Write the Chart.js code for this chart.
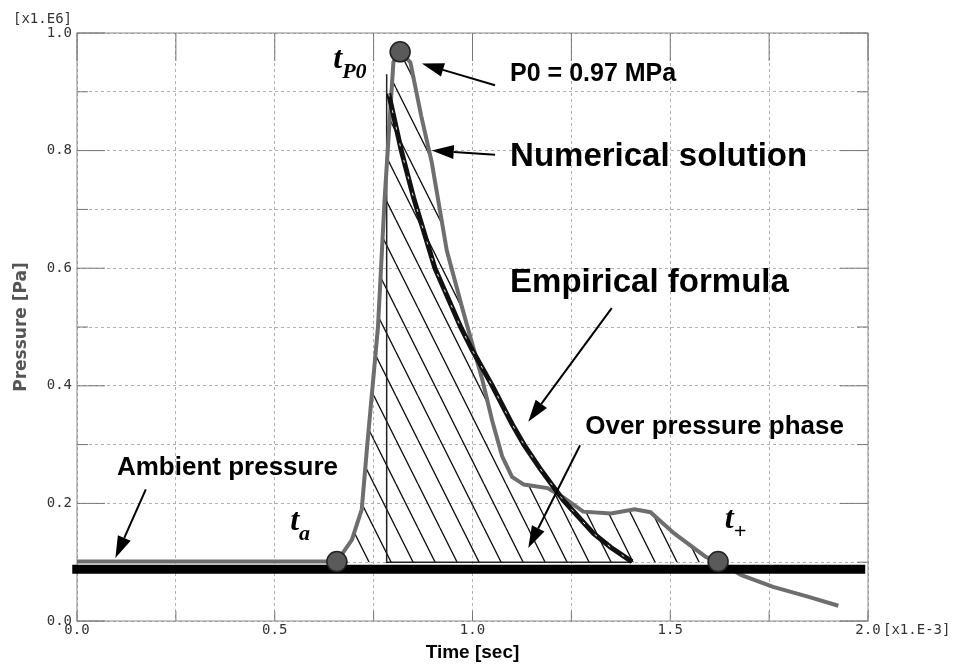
<!DOCTYPE html>
<html lang="en">
<head>
<meta charset="UTF-8">
<title>Pressure history</title>
<script src="https://cdn.jsdelivr.net/npm/chart.js@4.4.0/dist/chart.umd.min.js"></script>
<style>
  body{margin:0; background:#fff;}
  #wrap{width:957px; height:666px;}
</style>
</head>
<body>
<div id="wrap"><canvas id="myChart" width="957" height="666"></canvas></div>
<script>
// time in x1.E-3 sec, pressure in x1.E6 Pa
const numTime = [0, 0.657, 0.695, 0.72, 0.734, 0.761, 0.778, 0.80, 0.815, 0.843, 0.87, 0.897, 0.935, 0.975, 1.0, 1.025, 1.05, 1.075, 1.10, 1.13, 1.19, 1.23, 1.28, 1.35, 1.41, 1.45, 1.51, 1.59, 1.621, 1.68, 1.76, 1.85, 1.925]
const numPressure = [0.101, 0.101, 0.138, 0.19, 0.30, 0.50, 0.72, 0.95, 0.97, 0.95, 0.86, 0.78, 0.63, 0.53, 0.47, 0.41, 0.34, 0.28, 0.245, 0.232, 0.226, 0.21, 0.186, 0.183, 0.19, 0.185, 0.149, 0.109, 0.101, 0.078, 0.058, 0.041, 0.026]

const empTime = [0.788, 0.82, 0.851, 0.905, 0.97, 1.0, 1.05, 1.10, 1.13, 1.17, 1.23, 1.306, 1.35, 1.403]
const empPressure = [0.897, 0.80, 0.72, 0.60, 0.50, 0.46, 0.40, 0.335, 0.30, 0.26, 0.205, 0.149, 0.125, 0.101]

// onset of the empirical pulse (thin line)
const onsetTime = [1.403, 0.783, 0.783]
const onsetPressure = [0.10, 0.10, 0.93]

const ambientTime = [-0.012, 1.993]
const ambientPressure = [0.088, 0.088]

// t_a, t_P0, t_+
const markTime = [0.657, 0.817, 1.621]
const markPressure = [0.101, 0.968, 0.101]

const xTickLabels = ['0.0', '0.5', '1.0', '1.5', '2.0']
const yTickLabels = ['0.0', '0.2', '0.4', '0.6', '0.8', '1.0']

// annotations (data coordinates)
const noteText = ['P0 = 0.97 MPa', 'Numerical solution', 'Empirical formula', 'Over pressure phase', 'Ambient pressure']
const noteTime = [1.095, 1.095, 1.095, 1.285, 0.101]
const notePressure = [0.930, 0.789, 0.575, 0.330, 0.260]
const noteSize = [25, 33, 33, 26, 26]

const arrowFrom = [[1.057, 0.911], [1.057, 0.793], [1.352, 0.532], [1.272, 0.299], [0.174, 0.224]]
const arrowTo = [[0.872, 0.948], [0.897, 0.800], [1.141, 0.339], [1.141, 0.124], [0.097, 0.107]]

const tSub = ['P0', 'a', '+']
const tTime = [0.648, 0.539, 1.638]
const tPressure = [0.9405, 0.1548, 0.158]

const toXY = (xs, ys) => xs.map((x, i) => ({x: x, y: ys[i]}))

const canvas = document.getElementById('myChart')
const ctx = canvas.getContext('2d')

// diagonal hatching for the over pressure phase
function hatchPattern(){
    const c = document.createElement('canvas')
    c.width = 22; c.height = 44
    const g = c.getContext('2d')
    g.strokeStyle = '#111'
    g.lineWidth = 1.3
    ;[-22, 0, 22].forEach(o => {
        g.beginPath(); g.moveTo(o, 0); g.lineTo(o + 22, 44); g.stroke()
    })
    return ctx.createPattern(c, 'repeat')
}

const hatchData = toXY(numTime, numPressure).filter(p => p.x >= markTime[0] && p.x <= markTime[2])

function seg(c, x1, y1, x2, y2){
    c.beginPath(); c.moveTo(x1, y1); c.lineTo(x2, y2); c.stroke()
}

const framePlugin = {
    id: 'frame',
    beforeDatasetsDraw(chart){
        const c = chart.ctx, a = chart.chartArea, x = chart.scales.x, y = chart.scales.y
        c.save()
        c.strokeStyle = '#8a8a8a'
        c.lineWidth = 1
        c.strokeRect(a.left, a.top, a.width, a.height)
        c.strokeStyle = '#777'
        y.ticks.forEach(t => {
            const py = y.getPixelForValue(t.value)
            const len = yTickLabels.includes(t.value.toFixed(1)) ? 28 : 11
            seg(c, a.left, py, a.left + len, py)
            seg(c, a.right - len, py, a.right, py)
        })
        x.ticks.forEach(t => {
            const px = x.getPixelForValue(t.value)
            seg(c, px, a.top, px, a.top + 28)
            seg(c, px, a.bottom - 10, px, a.bottom)
        })
        c.restore()
    }
}

function arrow(c, x1, y1, x2, y2){
    const ang = Math.atan2(y2 - y1, x2 - x1)
    const L = 22, W = 7
    const bx = x2 - L * Math.cos(ang), by = y2 - L * Math.sin(ang)
    c.lineWidth = 2
    seg(c, x1, y1, bx, by)
    c.beginPath()
    c.moveTo(x2, y2)
    c.lineTo(bx + W * Math.sin(ang), by - W * Math.cos(ang))
    c.lineTo(bx - W * Math.sin(ang), by + W * Math.cos(ang))
    c.closePath()
    c.fill()
}

const notePlugin = {
    id: 'notes',
    afterDraw(chart){
        const c = chart.ctx, a = chart.chartArea, x = chart.scales.x, y = chart.scales.y
        c.save()
        c.fillStyle = '#000'
        c.strokeStyle = '#000'
        c.textBaseline = 'middle'
        c.textAlign = 'left'
        noteText.forEach((s, i) => {
            c.font = 'bold ' + noteSize[i] + 'px "Liberation Sans", Arial, sans-serif'
            c.fillText(s, x.getPixelForValue(noteTime[i]), y.getPixelForValue(notePressure[i]))
        })
        arrowFrom.forEach((f, i) => {
            arrow(c, x.getPixelForValue(f[0]), y.getPixelForValue(f[1]),
                x.getPixelForValue(arrowTo[i][0]), y.getPixelForValue(arrowTo[i][1]))
        })
        c.textBaseline = 'alphabetic'
        tSub.forEach((s, i) => {
            const px = x.getPixelForValue(tTime[i]), py = y.getPixelForValue(tPressure[i])
            c.font = 'bold italic 32px "Liberation Serif", "Times New Roman", serif'
            c.fillText('t', px, py)
            const w = c.measureText('t').width
            c.font = 'bold italic 22px "Liberation Serif", "Times New Roman", serif'
            c.fillText(s, px + w, py + 10)
        })
        // exponent labels
        c.font = '14px "DejaVu Sans Mono", monospace'
        c.fillStyle = '#333'
        c.textAlign = 'right'
        c.textBaseline = 'middle'
        c.fillText('[x1.E6]', a.left - 5, a.top - 14)
        c.textAlign = 'left'
        c.fillText('[x1.E-3]', x.getPixelForValue(2.0) + 15, a.bottom + 9)
        c.restore()
    }
}

new Chart(ctx, {
    type: 'scatter',
    data: {
        datasets: [
            {
                label: 'Markers',
                data: toXY(markTime, markPressure),
                order: 0,
                pointRadius: 10,
                pointBackgroundColor: '#5a5a5a',
                pointBorderColor: '#222',
                pointBorderWidth: 1.5,
                showLine: false
            },
            {
                label: 'Ambient pressure',
                data: toXY(ambientTime, ambientPressure),
                order: 1,
                showLine: true,
                borderColor: '#000',
                borderWidth: 9,
                pointRadius: 0,
                clip: false
            },
            {
                label: 'Empirical dashes',
                data: toXY(empTime, empPressure),
                order: 2,
                showLine: true,
                borderColor: 'rgba(255,255,255,0.85)',
                borderWidth: 1,
                borderDash: [3, 14],
                pointRadius: 0
            },
            {
                label: 'Empirical formula',
                data: toXY(empTime, empPressure),
                order: 3,
                showLine: true,
                borderColor: '#111',
                borderWidth: 5,
                pointRadius: 0
            },
            {
                label: 'Numerical solution',
                data: toXY(numTime, numPressure),
                order: 4,
                showLine: true,
                borderColor: '#6e6e6e',
                borderWidth: 4,
                pointRadius: 0
            },
            {
                label: 'Onset',
                data: toXY(onsetTime, onsetPressure),
                order: 5,
                showLine: true,
                borderColor: '#222',
                borderWidth: 1.5,
                pointRadius: 0
            },
            {
                label: 'Over pressure phase',
                data: hatchData,
                order: 6,
                showLine: true,
                borderWidth: 0,
                borderColor: 'rgba(0,0,0,0)',
                backgroundColor: hatchPattern(),
                fill: {value: 0.1},
                pointRadius: 0
            }
        ]
    },
    options: {
        responsive: false,
        animation: false,
        layout: {padding: {left: 0, top: 33, right: 89, bottom: 0}},
        plugins: {legend: {display: false}, tooltip: {enabled: false}},
        scales: {
            x: {
                type: 'linear',
                min: 0, max: 2,
                afterFit(s){ s.height = 45 },
                border: {display: false, dash: [3, 3]},
                grid: {color: '#b0b0b0', lineWidth: 1, drawTicks: false},
                ticks: {
                    stepSize: 0.25, autoSkip: false, maxRotation: 0, padding: 1,
                    color: '#333',
                    font: {family: '"DejaVu Sans Mono", monospace', size: 14},
                    callback(v){ const s = Number(v).toFixed(1); return (xTickLabels.includes(s) && Math.abs(v * 2 - Math.round(v * 2)) < 1e-6) ? s : '' }
                },
                title: {
                    display: true, text: 'Time [sec]', color: '#000',
                    font: {family: '"Liberation Sans", Arial, sans-serif', size: 19, weight: 'bold'},
                    padding: {top: 0, bottom: 2}
                }
            },
            y: {
                min: 0, max: 1,
                afterFit(s){ s.width = 77 },
                border: {display: false, dash: [3, 3]},
                grid: {color: '#b0b0b0', lineWidth: 1, drawTicks: false},
                ticks: {
                    stepSize: 0.1, autoSkip: false, padding: 5,
                    color: '#333',
                    font: {family: '"DejaVu Sans Mono", monospace', size: 14},
                    callback(v){ const s = Number(v).toFixed(1); return (yTickLabels.includes(s) && Math.abs(v * 5 - Math.round(v * 5)) < 1e-6) ? s : '' }
                },
                title: {
                    display: true, text: 'Pressure [Pa]', color: '#555',
                    font: {family: '"DejaVu Sans", sans-serif', size: 17, weight: 'bold'},
                    padding: {top: 11, bottom: 0}
                }
            }
        }
    },
    plugins: [framePlugin, notePlugin]
})
</script>
</body>
</html>
